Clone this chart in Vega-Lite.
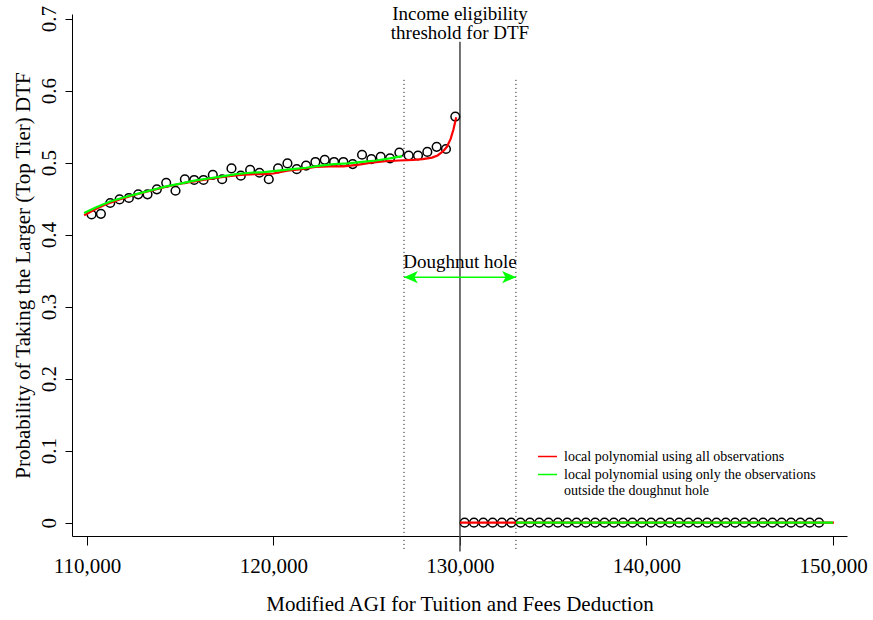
{
  "$schema": "https://vega.github.io/schema/vega-lite/v6.json",
  "width": 775,
  "height": 522,
  "autosize": {"type": "none"},
  "padding": {"left": 72, "top": 14, "right": 26, "bottom": 84},
  "background": "white",
  "config": {
    "font": "Liberation Serif",
    "view": {"stroke": null},
    "axis": {
      "grid": false,
      "domainColor": "black",
      "tickColor": "black",
      "labelColor": "black",
      "titleColor": "black",
      "labelFont": "Liberation Serif",
      "titleFont": "Liberation Serif",
      "labelFontSize": 21,
      "titleFontSize": 21,
      "titleFontWeight": "normal",
      "labelFlush": false,
      "labelOverlap": false
    }
  },
  "datasets": {
    "bins": [
      {"agi": 110250, "p": 0.428}, {"agi": 110750, "p": 0.429}, {"agi": 111250, "p": 0.444}, {"agi": 111750, "p": 0.449},
      {"agi": 112250, "p": 0.451}, {"agi": 112750, "p": 0.456}, {"agi": 113250, "p": 0.456}, {"agi": 113750, "p": 0.463},
      {"agi": 114250, "p": 0.472}, {"agi": 114750, "p": 0.461}, {"agi": 115250, "p": 0.477}, {"agi": 115750, "p": 0.476},
      {"agi": 116250, "p": 0.476}, {"agi": 116750, "p": 0.483}, {"agi": 117250, "p": 0.477}, {"agi": 117750, "p": 0.492},
      {"agi": 118250, "p": 0.482}, {"agi": 118750, "p": 0.490}, {"agi": 119250, "p": 0.486}, {"agi": 119750, "p": 0.477},
      {"agi": 120250, "p": 0.492}, {"agi": 120750, "p": 0.499}, {"agi": 121250, "p": 0.491}, {"agi": 121750, "p": 0.496},
      {"agi": 122250, "p": 0.501}, {"agi": 122750, "p": 0.504}, {"agi": 123250, "p": 0.501}, {"agi": 123750, "p": 0.501},
      {"agi": 124250, "p": 0.498}, {"agi": 124750, "p": 0.511}, {"agi": 125250, "p": 0.505}, {"agi": 125750, "p": 0.508},
      {"agi": 126250, "p": 0.506}, {"agi": 126750, "p": 0.514}, {"agi": 127250, "p": 0.510}, {"agi": 127750, "p": 0.510},
      {"agi": 128250, "p": 0.515}, {"agi": 128750, "p": 0.522}, {"agi": 129250, "p": 0.519}, {"agi": 129750, "p": 0.564},
      {"agi": 130250, "p": 0}, {"agi": 130750, "p": 0}, {"agi": 131250, "p": 0}, {"agi": 131750, "p": 0},
      {"agi": 132250, "p": 0}, {"agi": 132750, "p": 0}, {"agi": 133250, "p": 0}, {"agi": 133750, "p": 0},
      {"agi": 134250, "p": 0}, {"agi": 134750, "p": 0}, {"agi": 135250, "p": 0}, {"agi": 135750, "p": 0},
      {"agi": 136250, "p": 0}, {"agi": 136750, "p": 0}, {"agi": 137250, "p": 0}, {"agi": 137750, "p": 0},
      {"agi": 138250, "p": 0}, {"agi": 138750, "p": 0}, {"agi": 139250, "p": 0}, {"agi": 139750, "p": 0},
      {"agi": 140250, "p": 0}, {"agi": 140750, "p": 0}, {"agi": 141250, "p": 0}, {"agi": 141750, "p": 0},
      {"agi": 142250, "p": 0}, {"agi": 142750, "p": 0}, {"agi": 143250, "p": 0}, {"agi": 143750, "p": 0},
      {"agi": 144250, "p": 0}, {"agi": 144750, "p": 0}, {"agi": 145250, "p": 0}, {"agi": 145750, "p": 0},
      {"agi": 146250, "p": 0}, {"agi": 146750, "p": 0}, {"agi": 147250, "p": 0}, {"agi": 147750, "p": 0},
      {"agi": 148250, "p": 0}, {"agi": 148750, "p": 0}, {"agi": 149250, "p": 0}
    ],
    "fits": [
      {"agi": 109850, "p": 0.427, "fit": "all", "seg": "L"},
      {"agi": 110500, "p": 0.436, "fit": "all", "seg": "L"},
      {"agi": 111000, "p": 0.442, "fit": "all", "seg": "L"},
      {"agi": 111750, "p": 0.449, "fit": "all", "seg": "L"},
      {"agi": 112500, "p": 0.455, "fit": "all", "seg": "L"},
      {"agi": 113250, "p": 0.460, "fit": "all", "seg": "L"},
      {"agi": 114000, "p": 0.465, "fit": "all", "seg": "L"},
      {"agi": 114500, "p": 0.468, "fit": "all", "seg": "L"},
      {"agi": 115250, "p": 0.472, "fit": "all", "seg": "L"},
      {"agi": 116000, "p": 0.475, "fit": "all", "seg": "L"},
      {"agi": 116750, "p": 0.478, "fit": "all", "seg": "L"},
      {"agi": 117500, "p": 0.481, "fit": "all", "seg": "L"},
      {"agi": 118250, "p": 0.483, "fit": "all", "seg": "L"},
      {"agi": 119000, "p": 0.484, "fit": "all", "seg": "L"},
      {"agi": 119500, "p": 0.484, "fit": "all", "seg": "L"},
      {"agi": 120000, "p": 0.485, "fit": "all", "seg": "L"},
      {"agi": 120750, "p": 0.489, "fit": "all", "seg": "L"},
      {"agi": 121500, "p": 0.491, "fit": "all", "seg": "L"},
      {"agi": 122250, "p": 0.494, "fit": "all", "seg": "L"},
      {"agi": 123000, "p": 0.495, "fit": "all", "seg": "L"},
      {"agi": 123750, "p": 0.495, "fit": "all", "seg": "L"},
      {"agi": 124500, "p": 0.497, "fit": "all", "seg": "L"},
      {"agi": 125250, "p": 0.500, "fit": "all", "seg": "L"},
      {"agi": 126000, "p": 0.502, "fit": "all", "seg": "L"},
      {"agi": 126750, "p": 0.503, "fit": "all", "seg": "L"},
      {"agi": 127500, "p": 0.504, "fit": "all", "seg": "L"},
      {"agi": 128000, "p": 0.505, "fit": "all", "seg": "L"},
      {"agi": 128500, "p": 0.507, "fit": "all", "seg": "L"},
      {"agi": 128800, "p": 0.510, "fit": "all", "seg": "L"},
      {"agi": 129100, "p": 0.516, "fit": "all", "seg": "L"},
      {"agi": 129300, "p": 0.522, "fit": "all", "seg": "L"},
      {"agi": 129500, "p": 0.533, "fit": "all", "seg": "L"},
      {"agi": 129650, "p": 0.546, "fit": "all", "seg": "L"},
      {"agi": 129800, "p": 0.563, "fit": "all", "seg": "L"},
      {"agi": 130000, "p": 0, "fit": "all", "seg": "R"},
      {"agi": 150050, "p": 0, "fit": "all", "seg": "R"},
      {"agi": 109850, "p": 0.430, "fit": "donut", "seg": "L"},
      {"agi": 110500, "p": 0.438, "fit": "donut", "seg": "L"},
      {"agi": 111250, "p": 0.446, "fit": "donut", "seg": "L"},
      {"agi": 112000, "p": 0.452, "fit": "donut", "seg": "L"},
      {"agi": 112750, "p": 0.457, "fit": "donut", "seg": "L"},
      {"agi": 113500, "p": 0.462, "fit": "donut", "seg": "L"},
      {"agi": 114250, "p": 0.467, "fit": "donut", "seg": "L"},
      {"agi": 115000, "p": 0.471, "fit": "donut", "seg": "L"},
      {"agi": 115750, "p": 0.475, "fit": "donut", "seg": "L"},
      {"agi": 116500, "p": 0.478, "fit": "donut", "seg": "L"},
      {"agi": 117250, "p": 0.481, "fit": "donut", "seg": "L"},
      {"agi": 118000, "p": 0.484, "fit": "donut", "seg": "L"},
      {"agi": 118750, "p": 0.486, "fit": "donut", "seg": "L"},
      {"agi": 119500, "p": 0.487, "fit": "donut", "seg": "L"},
      {"agi": 120250, "p": 0.489, "fit": "donut", "seg": "L"},
      {"agi": 121000, "p": 0.491, "fit": "donut", "seg": "L"},
      {"agi": 121750, "p": 0.493, "fit": "donut", "seg": "L"},
      {"agi": 122500, "p": 0.496, "fit": "donut", "seg": "L"},
      {"agi": 123250, "p": 0.498, "fit": "donut", "seg": "L"},
      {"agi": 124000, "p": 0.499, "fit": "donut", "seg": "L"},
      {"agi": 124750, "p": 0.501, "fit": "donut", "seg": "L"},
      {"agi": 125500, "p": 0.503, "fit": "donut", "seg": "L"},
      {"agi": 126250, "p": 0.506, "fit": "donut", "seg": "L"},
      {"agi": 126900, "p": 0.509, "fit": "donut", "seg": "L"},
      {"agi": 133000, "p": 0, "fit": "donut", "seg": "R"},
      {"agi": 150000, "p": 0, "fit": "donut", "seg": "R"}
    ],
    "vlines": [
      {"agi": 130000, "top": 0.668, "bottom": -0.040, "kind": "threshold"},
      {"agi": 127000, "top": 0.615, "bottom": -0.040, "kind": "hole"},
      {"agi": 133000, "top": 0.615, "bottom": -0.040, "kind": "hole"}
    ],
    "notes": [
      {"agi": 130000, "p": 0.698, "label": ["Income eligibility", "threshold for DTF"]},
      {"agi": 130000, "p": 0.354, "label": "Doughnut hole"}
    ],
    "arrow": [
      {"agi": 127000, "p": 0.341, "end": "left"},
      {"agi": 133000, "p": 0.341, "end": "right"}
    ]
  },
  "layer": [
    {
      "data": {"name": "vlines"},
      "transform": [{"filter": "datum.kind == 'threshold'"}],
      "mark": {"type": "rule", "color": "#444444", "strokeWidth": 1.5},
      "encoding": {
        "x": {"field": "agi", "type": "quantitative"},
        "y": {"field": "top", "type": "quantitative"},
        "y2": {"field": "bottom"}
      }
    },
    {
      "data": {"name": "vlines"},
      "transform": [{"filter": "datum.kind == 'hole'"}],
      "mark": {"type": "rule", "color": "black", "strokeWidth": 1, "strokeDash": [1, 3]},
      "encoding": {
        "x": {"field": "agi", "type": "quantitative"},
        "y": {"field": "top", "type": "quantitative"},
        "y2": {"field": "bottom"}
      }
    },
    {
      "data": {"name": "bins"},
      "mark": {"type": "point", "shape": "circle", "filled": false, "stroke": "black", "strokeWidth": 1.5, "size": 75, "opacity": 1},
      "encoding": {
        "x": {
          "field": "agi", "type": "quantitative",
          "scale": {"domain": [109200, 150750], "nice": false, "zero": false},
          "axis": {
            "title": "Modified AGI for Tuition and Fees Deduction",
            "values": [110000, 120000, 130000, 140000, 150000],
            "format": ",d",
            "tickSize": 9,
            "labelPadding": 10,
            "titlePadding": 17
          }
        },
        "y": {
          "field": "p", "type": "quantitative",
          "scale": {"domain": [-0.0185, 0.7065], "nice": false, "zero": false},
          "axis": {
            "title": "Probability of Taking the Larger (Top Tier) DTF",
            "values": [0, 0.1, 0.2, 0.3, 0.4, 0.5, 0.6, 0.7],
            "labelExpr": "datum.value == 0 ? '0' : format(datum.value, '.1f')",
            "labelAngle": -90,
            "labelAlign": "center",
            "labelBaseline": "bottom",
            "tickSize": 7,
            "labelPadding": 6,
            "titlePadding": 5
          }
        }
      }
    },
    {
      "data": {"name": "fits"},
      "mark": {"type": "line", "strokeWidth": 2.2},
      "encoding": {
        "x": {"field": "agi", "type": "quantitative"},
        "y": {"field": "p", "type": "quantitative"},
        "detail": {"field": "seg"},
        "order": {"field": "agi"},
        "color": {
          "field": "fit", "type": "nominal",
          "scale": {"domain": ["all", "donut"], "range": ["#FF0000", "#00FF00"]},
          "legend": {
            "title": null,
            "orient": "none",
            "legendX": 465,
            "legendY": 432,
            "padding": 0,
            "rowPadding": 0,
            "symbolType": "stroke",
            "symbolSize": 361,
            "symbolStrokeWidth": 1.5,
            "labelFont": "Liberation Serif",
            "labelFontSize": 14,
            "labelColor": "black",
            "labelOffset": 6,
            "labelLimit": 500,
            "labelExpr": "datum.label == 'all' ? 'local polynomial using all observations' : ['local polynomial using only the observations', 'outside the doughnut hole']"
          }
        }
      }
    },
    {
      "data": {"name": "arrow"},
      "mark": {"type": "line", "color": "#00FF00", "strokeWidth": 1.5},
      "encoding": {
        "x": {"field": "agi", "type": "quantitative"},
        "y": {"field": "p", "type": "quantitative"}
      }
    },
    {
      "data": {"name": "arrow"},
      "transform": [{"filter": "datum.end == 'left'"}],
      "mark": {"type": "point", "shape": "M0,0L2,-0.9L1.5,0L2,0.9Z", "filled": true, "color": "#00FF00", "size": 190, "opacity": 1, "strokeWidth": 0},
      "encoding": {
        "x": {"field": "agi", "type": "quantitative"},
        "y": {"field": "p", "type": "quantitative"}
      }
    },
    {
      "data": {"name": "arrow"},
      "transform": [{"filter": "datum.end == 'right'"}],
      "mark": {"type": "point", "shape": "M0,0L-2,-0.9L-1.5,0L-2,0.9Z", "filled": true, "color": "#00FF00", "size": 190, "opacity": 1, "strokeWidth": 0},
      "encoding": {
        "x": {"field": "agi", "type": "quantitative"},
        "y": {"field": "p", "type": "quantitative"}
      }
    },
    {
      "data": {"name": "notes"},
      "mark": {"type": "text", "font": "Liberation Serif", "fontSize": 19, "lineHeight": 19, "align": "center", "baseline": "alphabetic", "color": "black"},
      "encoding": {
        "x": {"field": "agi", "type": "quantitative"},
        "y": {"field": "p", "type": "quantitative"},
        "text": {"field": "label"}
      }
    }
  ]
}
